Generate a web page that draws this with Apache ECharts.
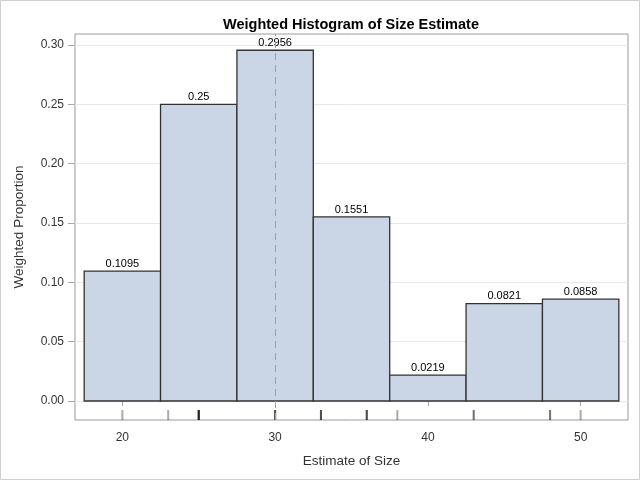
<!DOCTYPE html>
<html>
<head>
<meta charset="utf-8">
<script src="https://cdn.jsdelivr.net/npm/echarts@6/dist/echarts.min.js"></script>
<style>
  html, body { margin: 0; padding: 0; background: #fff; }
  #chart { width: 640px; height: 480px; }
</style>
</head>
<body>
<div id="chart"></div>
<script>
// bins of the histogram (lower / upper edge) and weighted proportion
const binLow = [17.5, 22.5, 27.5, 32.5, 37.5, 42.5, 47.5];
const binHigh = [22.5, 27.5, 32.5, 37.5, 42.5, 47.5, 52.5];
const proportion = [0.1095, 0.25, 0.2956, 0.1551, 0.0219, 0.0821, 0.0858];

// observations shown as a rug under the bars (repeats = darker marks)
const rugValues = [20, 23, 25, 25, 25, 25, 25, 30, 30, 30, 33, 33, 33, 36, 36, 36, 38, 43, 43, 48, 48, 50];

// reference line
const refValue = 30;

// tick labels
const xTicks = [20, 30, 40, 50];
const yTicks = [0, 0.05, 0.10, 0.15, 0.20, 0.25, 0.30];

const font = "Liberation Sans, Arial, sans-serif";

let barData = [];
for (let i = 0; i < proportion.length; i++) {
  barData.push([binLow[i], binHigh[i], proportion[i]]);
}
let rugData = rugValues.map(function (v) { return [v]; });

//bars + value labels
function renderBar(params, api) {
  let lo = api.value(0), hi = api.value(1), v = api.value(2);
  let p0 = api.coord([lo, 0]);
  let p1 = api.coord([hi, v]);
  return {
    type: "group",
    children: [{
      type: "rect",
      shape: { x: p0[0], y: p1[1], width: p1[0] - p0[0], height: p0[1] - p1[1] },
      style: { fill: "#CAD5E5", stroke: "#333333", lineWidth: 1.3 }
    }, {
      type: "text",
      z2: 10,
      style: {
        text: String(v),
        x: (p0[0] + p1[0]) / 2,
        y: p1[1] - 2,
        align: "center",
        verticalAlign: "bottom",
        font: "11px " + font,
        fill: "#000"
      }
    }]
  };
}

//rug marks along the bottom of the frame
function renderRug(params, api) {
  let x = api.coord([api.value(0), 0])[0];
  let bottom = params.coordSys.y + params.coordSys.height;
  return {
    type: "rect",
    shape: { x: x - 1, y: bottom - 10, width: 2, height: 10 },
    style: { fill: "rgba(0,0,0,0.33)" }
  };
}

let myChart = echarts.init(document.getElementById("chart"));
let option = {
  animation: false,
  backgroundColor: "#fff",
  graphic: [{
    type: "rect",
    shape: { x: 0.5, y: 0.5, width: 639, height: 479 },
    style: { fill: null, stroke: "#d0d0d0", lineWidth: 1 },
    silent: true
  }],
  title: {
    text: "Weighted Histogram of Size Estimate",
    left: 346,
    top: 12,
    textAlign: "center",
    textStyle: { fontFamily: font, fontSize: 14.5, fontWeight: "bold", color: "#000" }
  },
  grid: {
    left: 75,
    right: 12,
    top: 34,
    bottom: 60,
    show: true,
    borderColor: "#9a9a9a",
    borderWidth: 1,
    backgroundColor: "transparent"
  },
  xAxis: {
    type: "value",
    min: 16.9,
    max: 53.1,
    name: "Estimate of Size",
    nameLocation: "middle",
    nameGap: 34,
    nameTextStyle: { fontFamily: font, fontSize: 13.5, color: "#333" },
    axisLine: { show: false },
    axisTick: { show: true, customValues: xTicks, length: 5, lineStyle: { color: "#aaa" } },
    axisLabel: {
      customValues: xTicks,
      margin: 12,
      fontFamily: font,
      fontSize: 12,
      color: "#333"
    },
    splitLine: { show: false }
  },
  yAxis: {
    type: "value",
    min: -0.016,
    max: 0.3093,
    name: "Weighted Proportion",
    nameLocation: "middle",
    nameGap: 49,
    nameTextStyle: { fontFamily: font, fontSize: 13.5, color: "#333" },
    axisLine: { show: false },
    axisTick: { show: true, customValues: yTicks, length: 7, lineStyle: { color: "#aaa" } },
    axisLabel: {
      customValues: yTicks,
      margin: 11,
      fontFamily: font,
      fontSize: 12,
      color: "#333",
      formatter: function (v) { return v.toFixed(2); }
    },
    splitLine: { show: true, lineStyle: { color: "#e8e8e8", width: 1 } }
  },
  series: [{
    type: "custom",
    renderItem: renderBar,
    data: barData,
    z: 2,
    markLine: {
      silent: true,
      symbol: "none",
      label: { show: false },
      lineStyle: { color: "#9aa0a8", type: [7, 5], width: 1 },
      data: [{ xAxis: refValue }]
    }
  }, {
    type: "custom",
    renderItem: renderRug,
    data: rugData,
    z: 3
  }]
};
myChart.setOption(option);
</script>
</body>
</html>
